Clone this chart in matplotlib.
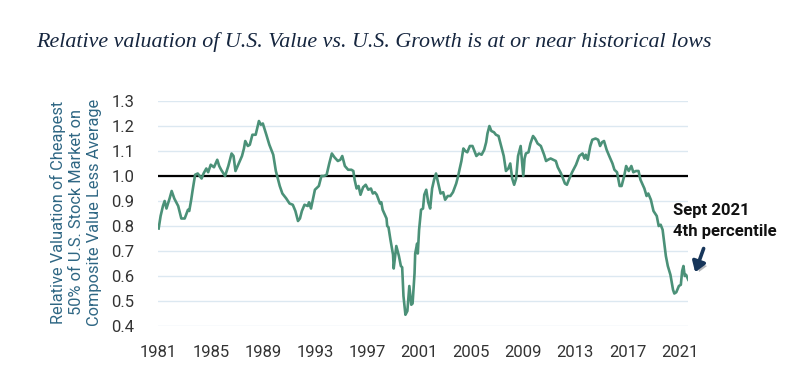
import matplotlib
matplotlib.use("Agg")
import matplotlib.pyplot as plt
import matplotlib.patheffects as pe

# values (year, relative valuation)
years = [1981.0, 1981.15, 1981.33, 1981.46, 1981.6, 1981.84, 1982.0, 1982.2, 1982.5, 1982.74,
         1983.0, 1983.25, 1983.35, 1983.5, 1983.6, 1983.8, 1984.0, 1984.3, 1984.45, 1984.66,
         1984.8, 1985.0, 1985.25, 1985.5, 1985.65, 1985.8, 1986.1, 1986.35, 1986.6, 1986.75,
         1986.9, 1987.15, 1987.4, 1987.55, 1987.65, 1987.85, 1988.0, 1988.2, 1988.45, 1988.7,
         1988.85, 1989.0, 1989.27, 1989.5, 1989.8, 1990.0, 1990.3, 1990.5, 1990.8, 1991.05,
         1991.3, 1991.5, 1991.7, 1991.85, 1992.0, 1992.2, 1992.45, 1992.55, 1992.7, 1993.0,
         1993.3, 1993.5, 1993.7, 1993.9, 1994.1, 1994.3, 1994.5, 1994.76, 1994.95, 1995.1,
         1995.3, 1995.55, 1995.8, 1995.95, 1996.05, 1996.2, 1996.35, 1996.5, 1996.7, 1996.9,
         1997.1, 1997.3, 1997.45, 1997.6, 1997.75, 1998.0, 1998.1, 1998.2, 1998.5, 1998.55,
         1998.65, 1998.8, 1999.0, 1999.05, 1999.25, 1999.45, 1999.6, 1999.7, 1999.8, 1999.95,
         2000.1, 2000.25, 2000.4, 2000.5, 2000.65, 2000.7, 2000.85, 2000.9, 2001.0, 2001.15,
         2001.3, 2001.4, 2001.55, 2001.7, 2001.85, 2002.0, 2002.15, 2002.3, 2002.45, 2002.65,
         2002.85, 2003.0, 2003.2, 2003.4, 2003.6, 2003.85, 2004.0, 2004.1, 2004.25, 2004.4,
         2004.55, 2004.7, 2004.9, 2005.1, 2005.25, 2005.4, 2005.6, 2005.8, 2006.0, 2006.15,
         2006.25, 2006.4, 2006.55, 2006.75, 2006.9, 2007.1, 2007.3, 2007.5, 2007.67, 2007.85,
         2008.0, 2008.15, 2008.3, 2008.45, 2008.6, 2008.8, 2009.0, 2009.1, 2009.2, 2009.4,
         2009.55, 2009.75, 2009.9, 2010.1, 2010.35, 2010.6, 2010.75, 2010.9, 2011.1, 2011.3,
         2011.5, 2011.65, 2011.9, 2012.2, 2012.35, 2012.5, 2012.75, 2013.05, 2013.3, 2013.55,
         2013.7, 2013.8, 2013.95, 2014.15, 2014.3, 2014.55, 2014.75, 2014.9, 2015.05, 2015.2,
         2015.4, 2015.6, 2015.85, 2016.0, 2016.2, 2016.4, 2016.55, 2016.75, 2016.9, 2017.1,
         2017.3, 2017.45, 2017.65, 2017.85, 2018.0, 2018.3, 2018.47, 2018.6, 2018.8, 2019.0,
         2019.25, 2019.4, 2019.55, 2019.7, 2019.85, 2019.95, 2020.1, 2020.3, 2020.5, 2020.6,
         2020.75, 2020.95, 2021.1, 2021.2, 2021.3, 2021.4, 2021.5, 2021.67]
values = [0.79, 0.84, 0.88, 0.90, 0.87, 0.91, 0.94, 0.91, 0.88, 0.83,
          0.83, 0.865, 0.86, 0.905, 0.94, 1.005, 1.01, 0.99, 1.01, 1.03,
          1.015, 1.045, 1.035, 1.065, 1.04, 1.025, 1.0, 1.04, 1.09, 1.08,
          1.02, 1.05, 1.08, 1.11, 1.14, 1.12, 1.125, 1.165, 1.165, 1.22,
          1.205, 1.21, 1.165, 1.125, 1.085, 1.02, 0.96, 0.93, 0.91, 0.89,
          0.885, 0.86, 0.82, 0.83, 0.86, 0.885, 0.88, 0.895, 0.87, 0.945,
          0.96, 1.0, 1.0, 1.005, 1.05, 1.09, 1.075, 1.06, 1.065, 1.08,
          1.04, 1.025, 1.025, 1.02, 0.985, 0.95, 0.96, 0.925, 0.955, 0.965,
          0.945, 0.95, 0.93, 0.935, 0.925, 0.89, 0.895, 0.865, 0.83, 0.80,
          0.795, 0.745, 0.685, 0.63, 0.72, 0.68, 0.64, 0.635, 0.52, 0.445,
          0.46, 0.56, 0.485, 0.49, 0.61, 0.69, 0.73, 0.69, 0.785, 0.865,
          0.87, 0.925, 0.945, 0.895, 0.87, 0.95, 0.985, 1.01, 0.975, 0.93,
          0.935, 0.905, 0.92, 0.92, 0.935, 0.97, 1.0, 1.025, 1.06, 1.11,
          1.1, 1.095, 1.12, 1.12, 1.10, 1.08, 1.09, 1.085, 1.105, 1.135,
          1.17, 1.2, 1.18, 1.175, 1.165, 1.16, 1.12, 1.08, 1.02, 1.03,
          1.05, 0.99, 0.965, 0.99, 1.08, 1.12, 1.0, 1.07, 1.09, 1.095,
          1.13, 1.16, 1.15, 1.13, 1.12, 1.085, 1.06, 1.065, 1.07, 1.065,
          1.06, 1.035, 1.01, 0.97, 0.965, 0.985, 1.015, 1.045, 1.08, 1.09,
          1.07, 1.085, 1.065, 1.12, 1.145, 1.15, 1.145, 1.12, 1.135, 1.14,
          1.105, 1.08, 1.05, 1.025, 1.015, 0.96, 0.96, 1.0, 1.04, 1.02,
          1.04, 1.015, 1.02, 1.02, 0.985, 0.95, 0.92, 0.93, 0.905, 0.86,
          0.84, 0.80, 0.805, 0.785, 0.72, 0.68, 0.64, 0.605, 0.545, 0.53,
          0.535, 0.56, 0.565, 0.62, 0.64, 0.60, 0.605, 0.585]

year_ticks = [1981, 1985, 1989, 1993, 1997, 2001, 2005, 2009, 2013, 2017, 2021]
value_ticks = [0.4, 0.5, 0.6, 0.7, 0.8, 0.9, 1.0, 1.1, 1.2, 1.3]

title = "Relative valuation of U.S. Value vs. U.S. Growth is at or near historical lows"
ylabel = "Relative Valuation of Cheapest\n50% of U.S. Stock Market on\nComposite Value Less Average"
note = "Sept 2021\n4th percentile"

plt.rcParams['font.family'] = ['Roboto', 'DejaVu Sans']

fig = plt.figure(figsize=(7.99, 3.91), dpi=100)
ax = fig.add_axes([158 / 799, 1 - 326 / 391, (688 - 158) / 799, (326 - 101) / 391])

for v in value_ticks:
    ax.axhline(v, color='#dce8f1', lw=1.0, zorder=1)
ax.axhline(1.0, color='black', lw=1.6, zorder=2)
ax.plot(years, values, color='#4b9178', lw=1.9, zorder=3)

ax.set_xlim(1980.95, 2021.65)
ax.set_ylim(0.4, 1.3)
ax.set_xticks(year_ticks)
ax.set_yticks(value_ticks)
ax.set_yticklabels(['%.1f' % v for v in value_ticks])
ax.tick_params(length=0, labelsize=12, colors='#333333')
ax.tick_params(axis='x', pad=14)
ax.tick_params(axis='y', pad=17)
for s in ax.spines.values():
    s.set_visible(False)
ax.grid(False)

fig.text(76 / 799, 1 - 212 / 391, ylabel, rotation=90, ha='center', va='center',
         fontsize=11.8, color='#2f6784', linespacing=1.22, multialignment='center')

fig.text(36 / 799, 1 - 42 / 391, title, ha='left', va='center', fontsize=15.8,
         family='Liberation Serif', style='italic', color='#16263f')

ax.text(2020.5, 0.82, note, ha='left', va='center', fontsize=12,
        fontweight='bold', color='#111111', linespacing=1.5)

ax.annotate('', xy=(2022.2, 0.615), xytext=(2022.85, 0.71),
            arrowprops=dict(arrowstyle='-|>,head_length=0.6,head_width=0.4', color='#17365a', lw=2.6,
                            shrinkA=0, shrinkB=0,
                            path_effects=[pe.SimplePatchShadow(offset=(2, -2), alpha=0.3), pe.Normal()]),
            annotation_clip=False)

fig.savefig('out.png', dpi=100)
